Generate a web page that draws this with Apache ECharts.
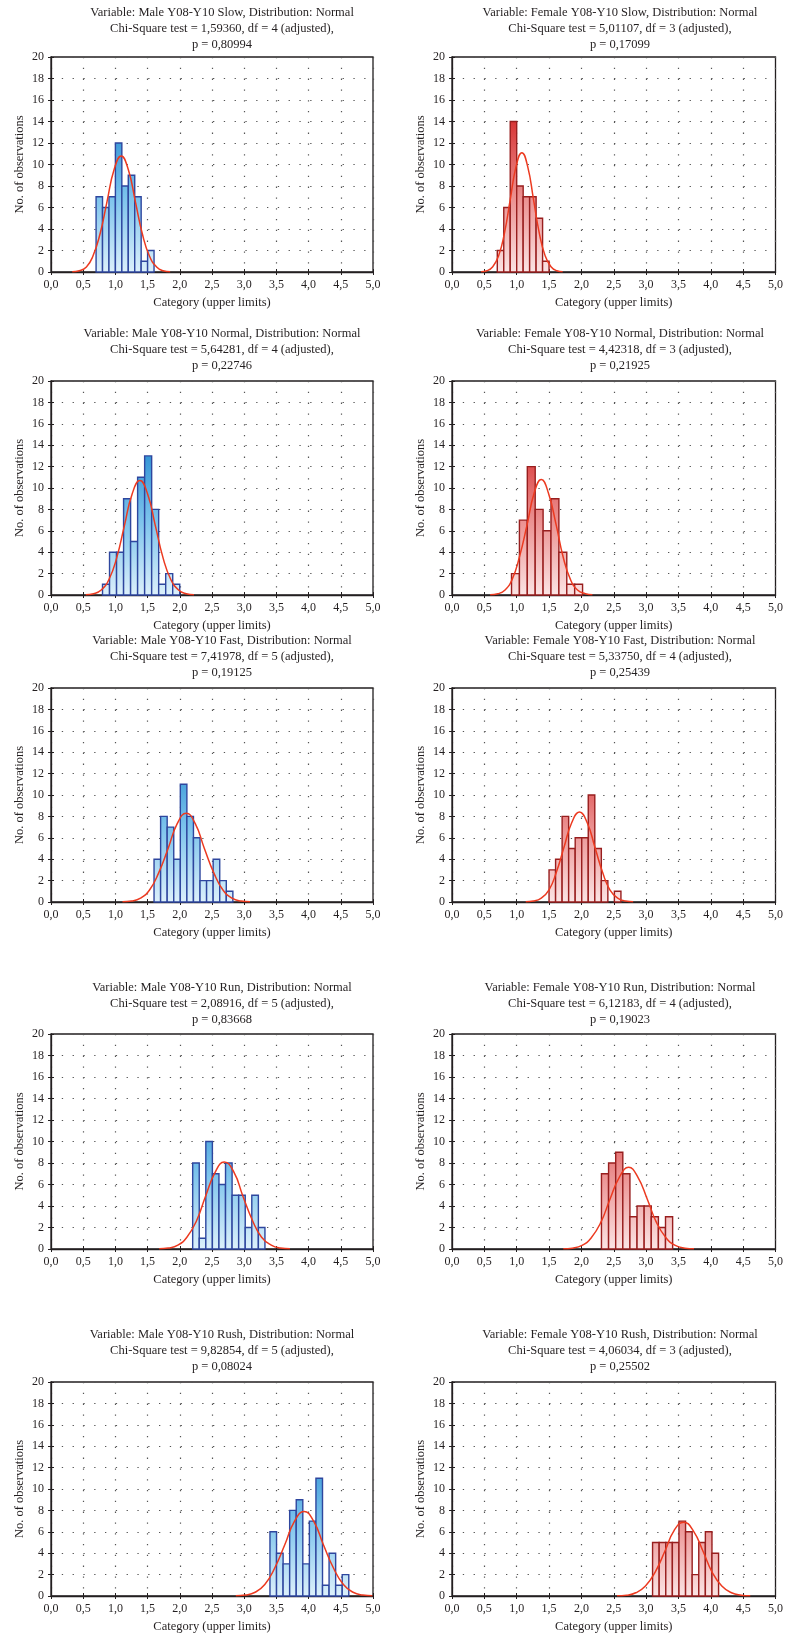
<!DOCTYPE html>
<html>
<head>
<meta charset="utf-8">
<script src="https://cdn.jsdelivr.net/npm/echarts@6.0.0/dist/echarts.min.js"></script>
<style>
  html, body { margin: 0; padding: 0; background: #fff; }
  #chart { width: 786px; height: 1634px; }
</style>
</head>
<body>
<div id="chart"></div>
<script>
// axis labels
const xTickLabels = ['0,0', '0,5', '1,0', '1,5', '2,0', '2,5', '3,0', '3,5', '4,0', '4,5', '5,0'];

// panel headers (row by row, male left / female right)
const variables = [
  'Male Y08-Y10 Slow', 'Female Y08-Y10 Slow',
  'Male Y08-Y10 Normal', 'Female Y08-Y10 Normal',
  'Male Y08-Y10 Fast', 'Female Y08-Y10 Fast',
  'Male Y08-Y10 Run', 'Female Y08-Y10 Run',
  'Male Y08-Y10 Rush', 'Female Y08-Y10 Rush'
];
const chiSquare = ['1,59360', '5,01107', '5,64281', '4,42318', '7,41978', '5,33750', '2,08916', '6,12183', '9,82854', '4,06034'];
const degreesOfFreedom = [4, 3, 4, 3, 5, 4, 5, 4, 5, 3];
const pValues = ['0,80994', '0,17099', '0,22746', '0,21925', '0,19125', '0,25439', '0,83668', '0,19023', '0,08024', '0,25502'];

// histogram bins: lower limit of the first bin and bin width
const binStart = [0.7, 0.7, 0.8, 0.92, 1.6, 1.5, 2.2, 2.31, 3.4, 3.1];
const binWidth = [0.1, 0.1, 0.109, 0.122, 0.102, 0.101, 0.102, 0.11, 0.102, 0.102];

const maleSlowCounts = [7, 6, 7, 12, 8, 9, 7, 1, 2];
const femaleSlowCounts = [2, 6, 14, 8, 7, 7, 5, 1];
const maleNormalCounts = [1, 4, 4, 9, 5, 11, 13, 8, 1, 2, 1];
const femaleNormalCounts = [2, 7, 12, 8, 6, 9, 4, 1, 1];
const maleFastCounts = [4, 8, 7, 4, 11, 8, 6, 2, 2, 4, 2, 1];
const femaleFastCounts = [3, 4, 8, 5, 6, 6, 10, 5, 2, 0, 1];
const maleRunCounts = [8, 1, 10, 7, 6, 8, 5, 5, 2, 5, 2];
const femaleRunCounts = [7, 8, 9, 7, 3, 4, 4, 3, 2, 3];
const maleRushCounts = [6, 4, 3, 8, 9, 3, 7, 11, 1, 4, 1, 2];
const femaleRushCounts = [5, 5, 5, 5, 7, 6, 2, 5, 6, 4];

// fitted normal curves
const maleSlowCurve = [[0.33,0.02],[0.44,0.12],[0.55,0.47],[0.65,1.46],[0.76,3.51],[0.87,6.55],[0.98,9.53],[1.09,10.8],[1.20,9.53],[1.31,6.55],[1.42,3.51],[1.53,1.46],[1.64,0.47],[1.74,0.12],[1.85,0.02]];
const femaleSlowCurve = [[0.45,0.02],[0.54,0.12],[0.63,0.49],[0.72,1.50],[0.81,3.60],[0.90,6.73],[0.99,9.80],[1.08,11.1],[1.17,9.80],[1.26,6.73],[1.35,3.60],[1.44,1.50],[1.53,0.49],[1.62,0.12],[1.71,0.02]];
const maleNormalCurve = [[0.54,0.02],[0.66,0.12],[0.78,0.47],[0.90,1.45],[1.02,3.47],[1.14,6.49],[1.26,9.44],[1.38,10.7],[1.50,9.44],[1.62,6.49],[1.74,3.47],[1.86,1.45],[1.98,0.47],[2.10,0.12],[2.22,0.02]];
const femaleNormalCurve = [[0.59,0.02],[0.71,0.12],[0.82,0.47],[0.93,1.46],[1.04,3.51],[1.16,6.55],[1.27,9.53],[1.38,10.8],[1.49,9.53],[1.61,6.55],[1.72,3.51],[1.83,1.46],[1.94,0.47],[2.06,0.12],[2.17,0.02]];
const maleFastCurve = [[1.11,0.02],[1.25,0.09],[1.39,0.36],[1.53,1.12],[1.67,2.70],[1.82,5.03],[1.96,7.32],[2.10,8.3],[2.24,7.32],[2.38,5.03],[2.53,2.70],[2.67,1.12],[2.81,0.36],[2.95,0.09],[3.09,0.02]];
const femaleFastCurve = [[1.14,0.02],[1.26,0.09],[1.38,0.37],[1.50,1.14],[1.61,2.73],[1.73,5.09],[1.85,7.41],[1.97,8.4],[2.09,7.41],[2.21,5.09],[2.33,2.73],[2.44,1.14],[2.56,0.37],[2.68,0.09],[2.80,0.02]];
const maleRunCurve = [[1.68,0.02],[1.82,0.09],[1.97,0.36],[2.11,1.10],[2.26,2.63],[2.40,4.91],[2.55,7.15],[2.69,8.1],[2.84,7.15],[2.98,4.91],[3.13,2.63],[3.27,1.10],[3.42,0.36],[3.56,0.09],[3.71,0.02]];
const femaleRunCurve = [[1.72,0.02],[1.86,0.08],[2.01,0.33],[2.15,1.03],[2.30,2.47],[2.44,4.61],[2.59,6.71],[2.73,7.6],[2.87,6.71],[3.02,4.61],[3.16,2.47],[3.31,1.03],[3.45,0.33],[3.60,0.08],[3.74,0.02]];
const maleRushCurve = [[2.87,0.02],[3.02,0.09],[3.17,0.35],[3.32,1.07],[3.47,2.57],[3.63,4.79],[3.78,6.97],[3.93,7.9],[4.08,6.97],[4.23,4.79],[4.39,2.57],[4.54,1.07],[4.69,0.35],[4.84,0.09],[4.99,0.02]];
const femaleRushCurve = [[2.55,0.02],[2.70,0.08],[2.84,0.30],[2.99,0.93],[3.14,2.24],[3.29,4.18],[3.43,6.09],[3.58,6.9],[3.73,6.09],[3.88,4.18],[4.02,2.24],[4.17,0.93],[4.32,0.30],[4.47,0.08],[4.61,0.02]];

const counts = [maleSlowCounts, femaleSlowCounts, maleNormalCounts, femaleNormalCounts,
  maleFastCounts, femaleFastCounts, maleRunCounts, femaleRunCounts, maleRushCounts, femaleRushCounts];
const curves = [maleSlowCurve, femaleSlowCurve, maleNormalCurve, femaleNormalCurve,
  maleFastCurve, femaleFastCurve, maleRunCurve, femaleRunCurve, maleRushCurve, femaleRushCurve];

// layout
const colLeft = [51, 452];
const colWidth = [322, 324];
const rowTop = [57, 381, 688, 1034, 1382];
const rowHeight = [215, 214, 214, 215, 214];
const titleCenter = [222, 620];
const titleTop = [5, 326, 633, 980, 1327];

const FONT = '"Liberation Serif", "Times New Roman", serif';
const INK = '#231f20';
const palettes = [
  { stroke: '#2e469e', stops: [{ offset: 0, color: '#2a8ed2' }, { offset: 0.5, color: '#7cc3ec' }, { offset: 1, color: '#dcf0fb' }] },
  { stroke: '#981e1e', stops: [{ offset: 0, color: '#d83636' }, { offset: 0.5, color: '#eb9090' }, { offset: 1, color: '#fbe4e4' }] }
];

function makeRender(pal) {
  return function (params, api) {
    const lo = api.value(0), hi = api.value(1), n = api.value(2);
    if (!n) return;
    const a = api.coord([lo, n]);
    const b = api.coord([hi, 0]);
    const top = api.coord([0, 14])[1];
    return {
      type: 'rect',
      shape: { x: a[0], y: a[1], width: b[0] - a[0], height: b[1] - a[1] },
      style: {
        fill: { type: 'linear', x: 0, y: top, x2: 0, y2: b[1], global: true, colorStops: pal.stops },
        stroke: pal.stroke,
        lineWidth: 1.4
      }
    };
  };
}

const grid = [], xAxis = [], yAxis = [], series = [], graphic = [];
const dots = { type: [1.3, 9.5], color: '#555', width: 1.2 };

for (let i = 0; i < 10; i++) {
  const col = i % 2, row = Math.floor(i / 2);
  grid.push({
    left: colLeft[col], top: rowTop[row], width: colWidth[col], height: rowHeight[row],
    show: true, borderColor: INK, borderWidth: 1.3
  });
  xAxis.push({
    gridIndex: i, type: 'value', min: 0, max: 5, interval: 0.5,
    name: 'Category (upper limits)', nameLocation: 'middle', nameGap: 24,
    nameTextStyle: { fontFamily: FONT, fontSize: 12.5, color: INK },
    axisLine: { show: true, onZero: false, lineStyle: { color: INK, width: 1.3 } },
    axisTick: { inside: true, length: 3, lineStyle: { color: INK } },
    axisLabel: { margin: 7, fontFamily: FONT, fontSize: 12, color: INK,
      formatter: v => xTickLabels[Math.round(v / 0.5)] },
    splitLine: { show: true, lineStyle: dots }
  });
  xAxis.push({
    gridIndex: i, type: 'value', position: 'top', min: 0, max: 5, interval: 0.5,
    axisLine: { show: false }, axisTick: { inside: true, length: 3, lineStyle: { color: INK } },
    axisLabel: { show: false }, splitLine: { show: false }
  });
  yAxis.push({
    gridIndex: i, type: 'value', min: 0, max: 20, interval: 2,
    name: 'No. of observations', nameLocation: 'middle', nameGap: 25,
    nameTextStyle: { fontFamily: FONT, fontSize: 12.5, color: INK },
    axisLine: { show: true, lineStyle: { color: INK, width: 1.3 } },
    axisTick: { show: true, inside: true, length: 3, lineStyle: { color: INK } },
    axisLabel: { margin: 7, fontFamily: FONT, fontSize: 12, color: INK },
    splitLine: { show: true, lineStyle: dots }
  });
  yAxis.push({
    gridIndex: i, type: 'value', position: 'right', min: 0, max: 20, interval: 2,
    axisLine: { show: false }, axisTick: { show: true, inside: true, length: 3, lineStyle: { color: INK } },
    axisLabel: { show: false }, splitLine: { show: false }
  });

  const bins = counts[i].map((n, k) => {
    const lo = binStart[i] + k * binWidth[i];
    return [lo, lo + binWidth[i], n];
  });
  series.push({
    type: 'custom', xAxisIndex: 2 * i, yAxisIndex: 2 * i,
    renderItem: makeRender(palettes[col]),
    encode: { x: [0, 1], y: 2 },
    data: bins, z: 2
  });
  series.push({
    type: 'line', xAxisIndex: 2 * i, yAxisIndex: 2 * i,
    data: curves[i], smooth: true, showSymbol: false,
    lineStyle: { color: '#ec3a20', width: 1.5 }, z: 3, silent: true
  });

  graphic.push({
    type: 'text', x: titleCenter[col], y: titleTop[row],
    style: {
      text: 'Variable: ' + variables[i] + ', Distribution: Normal\n' +
        'Chi-Square test = ' + chiSquare[i] + ', df = ' + degreesOfFreedom[i] + ' (adjusted),\n' +
        'p = ' + pValues[i],
      align: 'center', verticalAlign: 'top', lineHeight: 16,
      fontFamily: FONT, fontSize: 12.5, fill: INK
    }
  });
}

const myChart = echarts.init(document.getElementById('chart'));
myChart.setOption({
  backgroundColor: '#fff',
  animation: false,
  grid: grid,
  xAxis: xAxis,
  yAxis: yAxis,
  series: series,
  graphic: graphic
});
</script>
</body>
</html>
